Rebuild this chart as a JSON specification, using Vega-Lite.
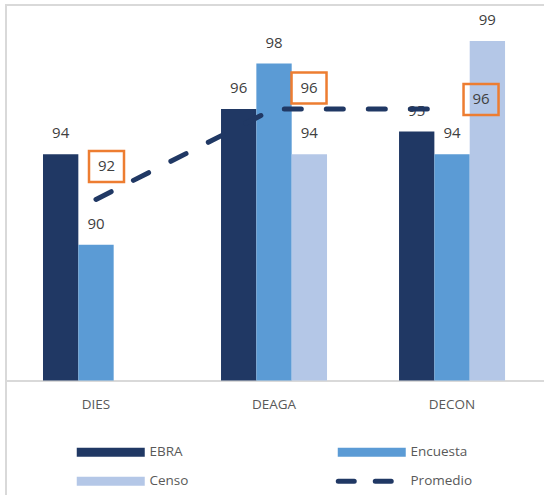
{
  "$schema": "https://vega.github.io/schema/vega-lite/v6.json",
  "width": 545,
  "height": 500,
  "padding": {"left": 6, "top": 5, "right": 0, "bottom": 0},
  "config": {"view": {"stroke": "#D9D9D9", "strokeWidth": 2}, "font": "Open Sans"},
  "data": {"values": [
    {"cat": "DIES", "serie": "EBRA", "value": 94},
    {"cat": "DIES", "serie": "Encuesta", "value": 90},
    {"cat": "DEAGA", "serie": "EBRA", "value": 96},
    {"cat": "DEAGA", "serie": "Encuesta", "value": 98},
    {"cat": "DEAGA", "serie": "Censo", "value": 94},
    {"cat": "DECON", "serie": "EBRA", "value": 95},
    {"cat": "DECON", "serie": "Encuesta", "value": 94},
    {"cat": "DECON", "serie": "Censo", "value": 99},
    {"cat": "DIES", "serie": "Promedio", "value": 92},
    {"cat": "DEAGA", "serie": "Promedio", "value": 96},
    {"cat": "DECON", "serie": "Promedio", "value": 96}
  ]},
  "encoding": {
    "x": {
      "field": "cat", "type": "nominal", "sort": ["DIES", "DEAGA", "DECON"],
      "scale": {"paddingInner": 0.4045, "paddingOuter": 0.233, "align": 0.446},
      "axis": {"title": null, "orient": "bottom", "offset": -124.5, "ticks": false, "tickSize": 0,
        "domainColor": "#D9D9D9", "domainWidth": 2, "labelFontSize": 13.5, "labelColor": "#595959",
        "labelPadding": 17, "labelAngle": 0}
    },
    "y": {"field": "value", "type": "quantitative", "scale": {"domain": [78.5, 100.59], "nice": false, "zero": false}, "axis": null}
  },
  "layer": [
    {
      "transform": [{"filter": "datum.serie !== 'Promedio'"}],
      "mark": {"type": "bar"},
      "encoding": {
        "xOffset": {"field": "serie", "type": "nominal", "scale": {"domain": ["EBRA", "Encuesta", "Censo"], "paddingInner": 0, "paddingOuter": 0}},
        "y2": {"datum": 84},
        "color": {
          "field": "serie", "type": "nominal",
          "scale": {"domain": ["EBRA", "Encuesta", "Censo", "Promedio"], "range": ["#203864", "#5B9BD5", "#B4C7E7", "#203864"]},
          "legend": {
            "orient": "none", "legendX": 69, "legendY": 440, "columns": 2, "direction": "horizontal", "title": null,
            "symbolSize": 100, "symbolOffset": 29, "labelOffset": 32, "columnPadding": 139, "rowPadding": 11.5,
            "labelFontSize": 13.5, "labelColor": "#595959", "padding": 0, "offset": 0,
            "encode": {"symbols": {"update": {
              "shape": {"signal": "datum.value === 'Promedio' ? 'M-6.7,0H-3.5M0.7,0H3.9' : 'M-6.8,-0.9H6.8V0.9H-6.8Z'"},
              "fill": {"signal": "datum.value === 'Promedio' ? 'transparent' : scale('color', datum.value)"},
              "stroke": {"signal": "datum.value === 'Promedio' ? '#203864' : 'transparent'"},
              "strokeWidth": {"signal": "datum.value === 'Promedio' ? 5 : 0"},
              "strokeCap": {"value": "round"},
              "size": {"value": 100},
              "opacity": {"value": 1}
            }}}
          }
        }
      }
    },
    {
      "transform": [{"filter": "datum.serie !== 'Promedio'"}],
      "mark": {"type": "text", "dy": -16, "baseline": "alphabetic", "fontSize": 15, "fill": "#404040"},
      "encoding": {
        "xOffset": {"field": "serie", "type": "nominal", "scale": {"domain": ["EBRA", "Encuesta", "Censo"], "paddingInner": 0, "paddingOuter": 0}},
        "text": {"field": "value", "type": "quantitative"}
      }
    },
    {
      "transform": [{"filter": "datum.serie === 'Promedio'"}],
      "mark": {"type": "line", "strokeDash": [17, 25], "strokeCap": "round", "strokeWidth": 5},
      "encoding": {
        "color": {"field": "serie", "type": "nominal"}
      }
    },
    {
      "transform": [{"filter": "datum.serie === 'Promedio'"}],
      "mark": {"type": "point", "size": 4, "filled": false, "fill": "transparent", "stroke": "#ED7D31", "strokeWidth": 2.5, "opacity": 1},
      "encoding": {
        "shape": {"field": "cat", "type": "nominal", "legend": null,
          "scale": {"domain": ["DIES", "DEAGA", "DECON"], "range": ["M-7,-48.5H28V-17.5H-7Z", "M17.5,-36.5H52.5V-5.5H17.5Z", "M11.5,-25H46.5V6H11.5Z"]}}
      }
    },
    {
      "transform": [{"filter": "datum.serie === 'Promedio' && datum.cat === 'DIES'"}],
      "mark": {"type": "text", "dx": 10.5, "dy": -33, "baseline": "middle", "align": "center", "fontSize": 15, "fill": "#404040"},
      "encoding": {"text": {"field": "value", "type": "quantitative"}}
    },
    {
      "transform": [{"filter": "datum.serie === 'Promedio' && datum.cat === 'DEAGA'"}],
      "mark": {"type": "text", "dx": 35, "dy": -21, "baseline": "middle", "align": "center", "fontSize": 15, "fill": "#404040"},
      "encoding": {"text": {"field": "value", "type": "quantitative"}}
    },
    {
      "transform": [{"filter": "datum.serie === 'Promedio' && datum.cat === 'DECON'"}],
      "mark": {"type": "text", "dx": 29, "dy": -9.5, "baseline": "middle", "align": "center", "fontSize": 15, "fill": "#404040"},
      "encoding": {"text": {"field": "value", "type": "quantitative"}}
    }
  ]
}
